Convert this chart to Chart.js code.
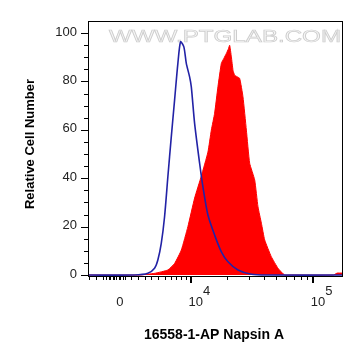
<!DOCTYPE html>
<html>
<head>
<meta charset="utf-8">
<script src="https://cdn.jsdelivr.net/npm/chart.js@4.4.0/dist/chart.umd.min.js"></script>
<style>
  html, body { margin: 0; padding: 0; background: #fff; }
  #wrap { width: 364px; height: 363px; }
</style>
</head>
<body>
<div id="wrap"><canvas id="flow" width="364" height="363"></canvas></div>
<script>
/* --------------- Data (x in decades of the display axis) --------------- */
const isoX = [3.16, 3.54, 3.65, 3.705, 3.732, 3.76, 3.787, 3.814, 3.842, 3.869, 3.896, 3.918,
  3.945, 3.965, 3.992, 4.006, 4.033, 4.074, 4.101, 4.142, 4.197, 4.252, 4.306, 4.388, 4.498, 4.634, 5.24];
const isoY = [0, 0, 0.7, 2.8, 6.2, 13.1, 24.1, 40.6, 57.1, 72.3, 87.5, 96.4,
  94.3, 87.5, 81.9, 77.8, 62.7, 46.2, 36.5, 24.8, 16.5, 9.6, 5.5, 2.1, 0.3, 0, 0];

const napX = [3.16, 3.58, 3.705, 3.814, 3.869, 3.924, 3.978, 4.033, 4.088, 4.142, 4.17, 4.197,
  4.224, 4.252, 4.272, 4.293, 4.31, 4.32, 4.334, 4.348, 4.361, 4.38, 4.402, 4.429, 4.457, 4.484,
  4.525, 4.552, 4.58, 4.607, 4.661, 4.716, 4.77, 4.825, 5.17, 5.2, 5.24];
const napY = [0, 0, 0.7, 2.1, 4.8, 10.3, 20.0, 31.8, 40.9, 50.8, 59.9, 66.9,
  77.8, 87.5, 89.5, 91.6, 93.5, 95.0, 90.2, 84.5, 82.6, 82.0, 81.3, 73.7, 59.9, 46.2,
  39.3, 28.2, 21.4, 14.5, 7.6, 2.8, 0, 0, 0, 0.8, 0.8];

const yMajor = [0, 20, 40, 60, 80, 100];
const yMinor = [5, 10, 15, 25, 30, 35, 45, 50, 55, 65, 70, 75, 85, 90, 95];
const xMajor = [3.42, 4, 5];
const xMajorLabels = [["0", ""], ["10", "4"], ["10", "5"]];
const xMinor = [3.172, 3.227, 3.281, 3.311, 3.328, 3.344, 3.361, 3.377, 3.393, 3.41, 3.426, 3.443,
  3.459, 3.514, 3.568, 3.623, 3.678, 3.732, 3.787, 3.842, 3.883, 3.924, 3.965,
  4.301, 4.477, 4.602, 4.699, 4.778, 4.845, 4.903, 4.954];

const toPoints = (xs, ys) => xs.map((x, i) => ({ x: x, y: ys[i] }));

/* --------------- Axes, ticks, labels, watermark --------------- */
const decoPlugin = {
  id: "deco",
  beforeDatasetsDraw(chart) {
    const ctx = chart.ctx;
    const a = chart.chartArea;
    ctx.save();
    ctx.translate((a.left + a.right) / 2 + 10, 37);
    ctx.scale(1.42, 1);
    ctx.font = "17px 'Liberation Sans', Arial, sans-serif";
    ctx.textAlign = "center";
    ctx.textBaseline = "middle";
    ctx.fillStyle = "#f6f6f6";
    ctx.strokeStyle = "#cdcdcd";
    ctx.lineWidth = 0.7;
    ctx.fillText("WWW.PTGLAB.COM", 0, 0);
    ctx.strokeText("WWW.PTGLAB.COM", 0, 0);
    ctx.restore();
  },
  afterDraw(chart) {
    const ctx = chart.ctx;
    const a = chart.chartArea;
    const xs = chart.scales.x;
    const ys = chart.scales.y;
    ctx.save();
    ctx.strokeStyle = "#000";
    ctx.lineWidth = 1;
    ctx.strokeRect(Math.round(a.left) + 0.5, Math.round(a.top) + 0.5,
      Math.round(a.right - a.left), Math.round(a.bottom - a.top));

    ctx.beginPath();
    yMajor.forEach((v) => {
      const p = Math.round(ys.getPixelForValue(v)) + 0.5;
      ctx.moveTo(a.left - 7, p);
      ctx.lineTo(a.left, p);
    });
    yMinor.forEach((v) => {
      const p = Math.round(ys.getPixelForValue(v)) + 0.5;
      ctx.moveTo(a.left - 4, p);
      ctx.lineTo(a.left, p);
    });
    xMinor.forEach((v) => {
      const p = Math.round(xs.getPixelForValue(v)) + 0.5;
      ctx.moveTo(p, a.bottom);
      ctx.lineTo(p, a.bottom + 4);
    });
    ctx.stroke();
    ctx.lineWidth = 2;
    ctx.beginPath();
    xMajor.slice(1).forEach((v) => {
      const p = Math.round(xs.getPixelForValue(v));
      ctx.moveTo(p, a.bottom);
      ctx.lineTo(p, a.bottom + 7);
    });
    ctx.stroke();

    ctx.fillStyle = "#222";
    ctx.font = "13px 'Liberation Sans', Arial, sans-serif";
    ctx.textAlign = "right";
    ctx.textBaseline = "middle";
    yMajor.forEach((v) => {
      ctx.fillText(String(v), a.left - 11, ys.getPixelForValue(v) - 1);
    });

    xMajor.forEach((v, i) => {
      const p = xs.getPixelForValue(v);
      const [base, sup] = xMajorLabels[i];
      ctx.textBaseline = "alphabetic";
      if (!sup) {
        ctx.textAlign = "center";
        ctx.fillText(base, p, 306);
      } else {
        ctx.textAlign = "left";
        ctx.fillText(base, p - 2, 306);
        const w = ctx.measureText(base).width;
        ctx.fillText(sup, p - 2 + w, 295);
      }
    });

    ctx.fillStyle = "#000";
    ctx.font = "bold 14px 'Liberation Sans', Arial, sans-serif";
    ctx.textAlign = "center";
    ctx.textBaseline = "middle";
    ctx.fillText("16558-1-AP Napsin A", 214, 335);
    ctx.font = "bold 13px 'Liberation Sans', Arial, sans-serif";
    ctx.translate(30, 144);
    ctx.rotate(-Math.PI / 2);
    ctx.fillText("Relative Cell Number", 0, 0);
    ctx.restore();
  }
};

new Chart(document.getElementById("flow"), {
  type: "line",
  plugins: [decoPlugin],
  data: {
    datasets: [
      {
        label: "Isotype control",
        data: toPoints(isoX, isoY),
        borderColor: "#2222a6",
        borderWidth: 1.6,
        pointRadius: 0,
        fill: false,
        tension: 0.25
      },
      {
        label: "16558-1-AP",
        data: toPoints(napX, napY),
        borderColor: "#ff0000",
        backgroundColor: "#ff0000",
        borderWidth: 1,
        pointRadius: 0,
        fill: "origin",
        tension: 0.15
      }
    ]
  },
  options: {
    responsive: false,
    animation: false,
    layout: { padding: { left: 88, right: 22, top: 21, bottom: 87 } },
    plugins: { legend: { display: false }, tooltip: { enabled: false } },
    scales: {
      x: { type: "linear", min: 3.16, max: 5.24, display: false },
      y: { type: "linear", min: -0.4, max: 105, display: false }
    }
  }
});
</script>
</body>
</html>
